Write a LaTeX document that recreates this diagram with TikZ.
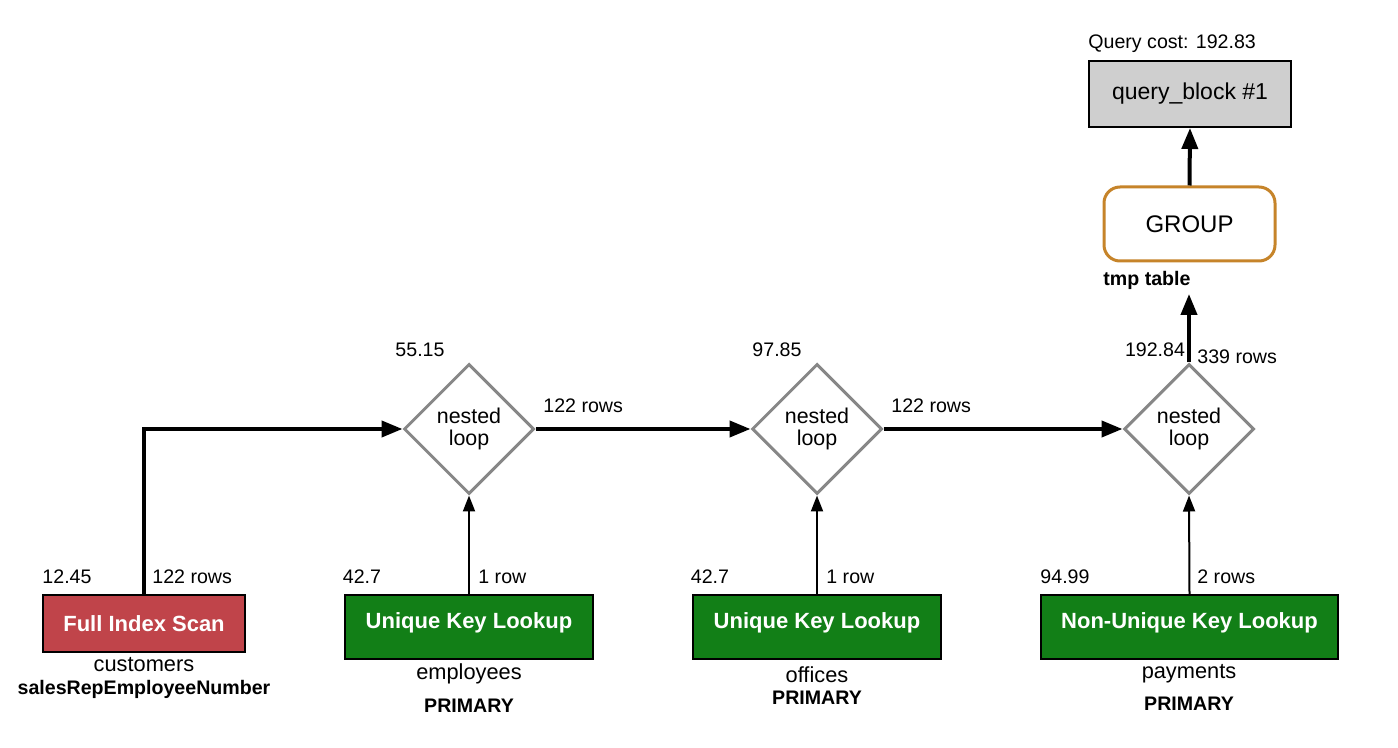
\documentclass[tikz,border=0pt]{standalone}
\usepackage{fontspec}
\setmainfont{Liberation Sans}
\usetikzlibrary{shapes.geometric,arrows.meta}
\definecolor{scanred}{HTML}{C0444A}
\definecolor{lookgreen}{HTML}{127F17}
\definecolor{qbgray}{HTML}{CFCFCF}
\definecolor{grouporange}{HTML}{C6842A}
\definecolor{loopgray}{HTML}{878787}
\tikzset{
  lbl/.style={font=\fontsize{9.8pt}{11pt}\selectfont, inner sep=0pt},
  tbl/.style={font=\fontsize{10.9pt}{12pt}\selectfont, inner sep=0pt},
  blbl/.style={font=\fontsize{9.8pt}{11pt}\selectfont\bfseries, inner sep=0pt},
  opbox/.style={draw=black, line width=1pt, text=white, font=\fontsize{11pt}{13pt}\selectfont\bfseries, inner sep=0pt},
  loopnode/.style={diamond, draw=loopgray, line width=1.5pt, fill=white, minimum width=65pt, minimum height=65pt, inner sep=0pt, align=center, font=\fontsize{10.7pt}{11pt}\selectfont},
  thickarrow/.style={line width=2pt, -{Triangle[length=10.5pt,width=8pt]}},
  thinarrow/.style={line width=1pt, -{Triangle[length=8pt,width=6pt]}},
}
\newcommand{\uptext}[1]{\raisebox{-0.5pt}[0pt][0pt]{#1}}
\begin{document}
\begin{tikzpicture}[x=0.5pt,y=-0.5pt]
\useasboundingbox (0,0) rectangle (1398,748);
% top
\node[draw=black, line width=1pt, fill=qbgray, minimum width=101pt, minimum height=33pt, inner sep=0pt, font=\fontsize{11.5pt}{13pt}\selectfont] (qb) at (1190,94) {query\_block \#1};
\node[lbl, anchor=west] (qc) at (1088,44) {Query cost: 192.83};
\node[draw=grouporange, line width=1.5pt, rounded corners=8pt, fill=white, minimum width=85.5pt, minimum height=37pt, inner sep=0pt, font=\fontsize{12pt}{14pt}\selectfont] (grp) at (1189.5,224) {GROUP};
\node[blbl, anchor=west] (tmp) at (1103,280) {tmp table};
% loops
\node[loopnode] (d1) at (469,429) {nested\\loop};
\node[loopnode] (d2) at (817,429) {nested\\loop};
\node[loopnode] (d3) at (1189,429) {nested\\loop};
% operations
\node[opbox, fill=scanred, minimum width=101pt, minimum height=28.5pt] (fis) at (144,623.5) {Full Index Scan};
\node[opbox, fill=lookgreen, minimum width=124pt, minimum height=32pt] (u1) at (469,627) {\uptext{Unique Key Lookup}};
\node[opbox, fill=lookgreen, minimum width=124pt, minimum height=32pt] (u2) at (817,627) {\uptext{Unique Key Lookup}};
\node[opbox, fill=lookgreen, minimum width=148.5pt, minimum height=32pt] (nu) at (1189.5,627) {\uptext{Non-Unique Key Lookup}};
% connectors
\coordinate (tmpend) at (1189,294);
\draw[thickarrow] (fis.north) |- (d1.west);
\draw[thickarrow] (d1.east) -- (d2.west);
\draw[thickarrow] (d2.east) -- (d3.west);
\draw[thickarrow] (d3.north) -- (tmpend);
\draw[thickarrow] (grp.north) -- (qb.south);
\draw[thinarrow] (u1.north) -- (d1.south);
\draw[thinarrow] (u2.north) -- (d2.south);
\draw[thinarrow] (nu.north) -- (d3.south);
% labels
\node[lbl] (c1) at (420,350) {55.15};
\node[lbl] (c2) at (777,350) {97.85};
\node[lbl] (c3) at (1155,350) {192.84};
\node[lbl, anchor=west] (r3) at (1197,357) {339 rows};
\node[lbl, anchor=west] (r1) at (543,406) {122 rows};
\node[lbl, anchor=west] (r2) at (891,406) {122 rows};
\node[lbl] (cf) at (67,577) {12.45};
\node[lbl, anchor=west] (rf) at (152,577) {122 rows};
\node[lbl] (cu1) at (362,577) {42.7};
\node[lbl, anchor=west] (ru1) at (478,577) {1 row};
\node[lbl] (cu2) at (710,577) {42.7};
\node[lbl, anchor=west] (ru2) at (826,577) {1 row};
\node[lbl] (cnu) at (1065,577) {94.99};
\node[lbl, anchor=west] (rnu) at (1197,577) {2 rows};
\node[tbl] (tf) at (144,665) {customers};
\node[blbl] (kf) at (144,689) {salesRepEmployeeNumber};
\node[tbl] (tu1) at (469,674) {employees};
\node[blbl] (ku1) at (469,706) {PRIMARY};
\node[tbl] (tu2) at (817,675) {offices};
\node[blbl] (ku2) at (817,698) {PRIMARY};
\node[tbl] (tnu) at (1189,674) {payments};
\node[blbl] (knu) at (1189,704) {PRIMARY};
\end{tikzpicture}
\end{document}
